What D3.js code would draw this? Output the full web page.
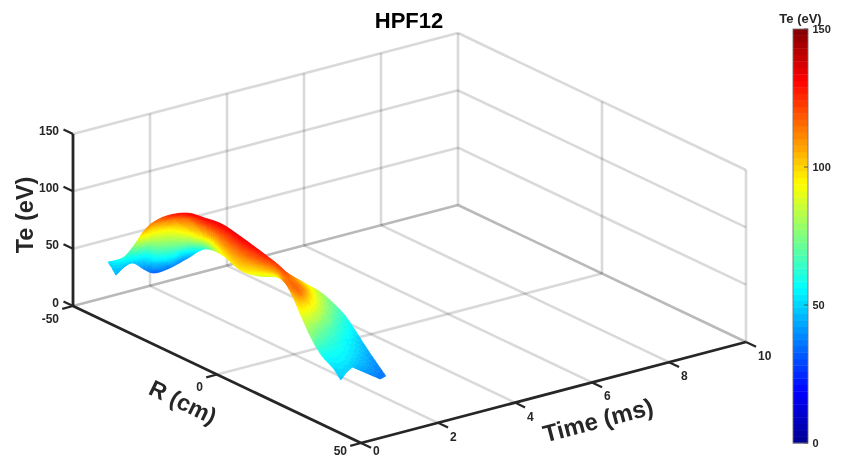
<!DOCTYPE html>
<html>
<head>
<meta charset="utf-8">
<script src="https://cdn.jsdelivr.net/npm/d3@7"></script>
<style>
html,body{margin:0;padding:0;background:#fff;overflow:hidden}
svg{display:block;font-family:"Liberation Sans",Arial,sans-serif;filter:blur(0.4px)}
</style>
</head>
<body>
<script>
const chartTitle = "HPF12";
const rTicks = [-50, 0, 50];
const timeTicks = [0, 2, 4, 6, 8, 10];
const teTicks = [0, 50, 100, 150];
const colorbarTicks = [0, 50, 100, 150];
const jetStops = ["#00008f", "#0000ff", "#00ffff", "#ffff00", "#ff0000", "#800000"];
const jetPositions = [0, 0.125, 0.375, 0.625, 0.875, 1];

// surface samples: one inner list per station along R, low edge to high edge
const surfaceR = [
 [-34.4,-35.3,-36.1,-36.9,-37.7,-38.3],
 [-37.2,-36.0,-35.9,-35.3,-34.4,-33.0],
 [-36.9,-35.1,-34.4,-33.0,-32.3,-30.4],
 [-37.5,-34.4,-29.4,-23.8,-22.0,-19.7],
 [-37.6,-32.3,-28.1,-24.0,-21.4,-18.3],
 [-36.5,-30.9,-26.7,-23.1,-18.0,-12.9],
 [-35.7,-31.5,-25.0,-19.4,-14.2,-8.3],
 [-27.1,-23.1,-18.5,-13.3,-7.7,-3.9],
 [-6.0,-5.1,-3.1,-1.5,0.0,2.1],
 [5.5,5.9,6.3,7.3,8.3,10.0],
 [6.2,9.3,11.2,13.8,15.3,16.2],
 [10.0,14.0,16.3,18.1,19.9,21.7],
 [25.8,25.5,25.2,25.1,25.0,25.2],
 [28.0,31.3,33.4,30.3,25.4,19.8],
 [31.4,31.2,30.6,28.1,23.0,18.4],
 [34.4,32.3,30.2,27.6,23.9,20.6],
 [35.5,34.5,33.0,30.4,27.3,24.1],
 [39.3,39.3,38.3,36.2,33.6,30.9],
 [43.8,42.2,39.6,39.6,41.7,40.4]
];
const surfaceTime = [
 [-0.05,-0.02,0.00,0.03,0.04,0.04],
 [0.37,0.28,0.27,0.21,0.13,0.02],
 [0.58,0.44,0.39,0.29,0.23,0.09],
 [0.94,0.71,0.33,-0.09,-0.23,-0.40],
 [1.20,0.80,0.49,0.18,-0.01,-0.24],
 [1.51,1.09,0.78,0.50,0.13,-0.26],
 [1.92,1.60,1.12,0.70,0.31,-0.13],
 [1.71,1.41,1.07,0.68,0.26,-0.02],
 [0.58,0.51,0.36,0.25,0.13,-0.03],
 [0.19,0.16,0.12,0.05,-0.03,-0.15],
 [0.60,0.37,0.22,0.03,-0.08,-0.15],
 [0.79,0.49,0.31,0.18,0.04,-0.09],
 [-0.16,-0.12,-0.07,-0.05,-0.03,-0.02],
 [-0.12,-0.29,-0.37,-0.06,0.39,0.88],
 [-0.14,-0.05,0.10,0.39,0.90,1.38],
 [-0.10,0.20,0.52,0.87,1.31,1.71],
 [0.07,0.30,0.57,0.92,1.33,1.73],
 [0.07,0.25,0.51,0.85,1.23,1.61],
 [-0.06,0.19,0.55,0.85,1.12,1.36]
];
const surfaceTe = [
 [46,47,48,49,50,52],
 [46,50,52,55,58,62],
 [48,54,58,64,68,74],
 [38,56,75,94,100,106],
 [33,56,75,94,104,114],
 [36,56,75,94,112,126],
 [42,56,75,94,116,132],
 [62,72,84,98,118,132],
 [92,98,106,115,124,134],
 [96,102,108,115,124,134],
 [88,98,106,116,124,130],
 [90,100,106,112,118,124],
 [112,113,114,115,116,118],
 [102,110,116,112,104,94],
 [88,94,98,96,88,80],
 [72,73,73,72,68,64],
 [58,60,61,60,58,55],
 [52,53,53,51,48,44],
 [48,50,49,42,36,35]
];

const W = 846, H = 458;
const ink = "#262626";
const originX = 73, originY = 306;
const rX = d3.scaleLinear().domain([-50, 50]).range([0, 288]);
const rY = d3.scaleLinear().domain([-50, 50]).range([0, 137]);
const tX = d3.scaleLinear().domain([0, 10]).range([0, 385]);
const tY = d3.scaleLinear().domain([0, 10]).range([0, -101]);
const zY = d3.scaleLinear().domain([0, 150]).range([0, -172]);
const project = (r, t, z) => [originX + rX(r) + tX(t), originY + rY(r) + tY(t) + zY(z)];

const jetScale = d3.scaleLinear().domain(jetPositions).range(jetStops).interpolate(d3.interpolateRgb);
const jet64 = d3.range(64).map(i => jetScale((i + 0.5) / 64));
const colorOf = d3.scaleQuantize().domain([0, 150]).range(jet64);

const svg = d3.select("body").append("svg").attr("width", W).attr("height", H);
const line = d3.line();

// grid
const gridG = svg.append("g").attr("fill", "none").attr("stroke", "#000").attr("stroke-opacity", 0.15).attr("stroke-width", 2.6);
const seg = (a, b) => gridG.append("path").attr("d", line([project(...a), project(...b)]));
teTicks.forEach(z => { seg([-50, 0, z], [-50, 10, z]); seg([-50, 10, z], [50, 10, z]); });
timeTicks.filter(t => t > 0).forEach(t => seg([-50, t, 0], [-50, t, 150]));
rTicks.filter(r => r > -50).forEach(r => seg([r, 10, 0], [r, 10, 150]));
timeTicks.filter(t => t > 0).forEach(t => seg([-50, t, 0], [50, t, 0]));
rTicks.filter(r => r < 50).forEach(r => seg([r, 0, 0], [r, 10, 0]));

// surface: smooth drawing between stored samples along the ribbon
const surfG = svg.append("g");
const stepsI = 8, stepsJ = 8;
const nI = surfaceTe.length, nJ = surfaceTe[0].length;
const along = (m, i, j, f) => {
  const g = k => m[Math.max(0, Math.min(nI - 1, k))][j];
  const p0 = g(i - 1), p1 = g(i), p2 = g(i + 1), p3 = g(i + 2);
  return 0.5 * (2 * p1 + (p2 - p0) * f + (2 * p0 - 5 * p1 + 4 * p2 - p3) * f * f + (3 * p1 - p0 - 3 * p2 + p3) * f * f * f);
};
const sample = (m, i, j, fi, fj) => {
  const a = along(m, i, j, fi), b = along(m, i, j + 1, fi);
  return a + (b - a) * fj;
};
const cells = [];
d3.range(nI - 1).forEach(i => {
  d3.range(nJ - 1).forEach(j => {
    d3.range(stepsI).forEach(a => d3.range(stepsJ).forEach(b => {
      const corner = (ca, cb) => {
        const fi = ca / stepsI, fj = cb / stepsJ;
        return project(sample(surfaceR, i, j, fi, fj), sample(surfaceTime, i, j, fi, fj), sample(surfaceTe, i, j, fi, fj));
      };
      const te = sample(surfaceTe, i, j, (a + 0.5) / stepsI, (b + 0.5) / stepsJ);
      cells.push({ pts: [corner(a, b), corner(a + 1, b), corner(a + 1, b + 1), corner(a, b + 1)], te });
    }));
  });
});
surfG.selectAll("path").data(cells).join("path")
  .attr("d", d => line(d.pts) + "Z")
  .attr("fill", d => colorOf(d.te))
  .attr("stroke", d => colorOf(d.te))
  .attr("stroke-width", 0.6)
  .attr("stroke-linejoin", "round");

// axes
const axisG = svg.append("g").attr("fill", "none").attr("stroke", ink).attr("stroke-width", 2.8);
const ax = (a, b) => axisG.append("path").attr("d", line([project(...a), project(...b)]));
ax([-50, 0, 0], [50, 0, 0]);
ax([50, 0, 0], [50, 10, 0]);
ax([-50, 0, 0], [-50, 0, 150]);
const tick = (a, b) => axisG.append("path").attr("stroke-width", 2.2).attr("d", line([project(...a), project(...b)]));
rTicks.forEach(r => tick([r, 0, 0], [r, -0.28, 0]));
timeTicks.forEach(t => tick([50, t, 0], [53.5, t, 0]));
teTicks.forEach(z => tick([-50, 0, z], [-53.3, 0, z]));

// tick labels
const tickText = (x, y, s, anchor, size) => svg.append("text")
  .attr("x", x).attr("y", y).attr("text-anchor", anchor)
  .attr("dominant-baseline", "central")
  .attr("font-size", size).attr("font-weight", "bold").attr("fill", ink).text(s);
const floorY = y => Math.min(y, H - 7.5);
teTicks.forEach(z => { const p = project(-50, 0, z); tickText(p[0] - 14, p[1] - 3.5, z, "end", 12); });
rTicks.forEach(r => { const p = project(r, 0, 0); tickText(p[0] - 14, floorY(p[1] + 12.5), r, "end", 12); });
timeTicks.forEach(t => { const p = project(50, t, 0); tickText(p[0] + 12, floorY(p[1] + 14), t, "start", 12); });

// axis labels and title
const bigText = (x, y, angle, s, size, fill) => svg.append("text")
  .attr("transform", `translate(${x},${y}) rotate(${angle})`)
  .attr("text-anchor", "middle").attr("dominant-baseline", "central")
  .attr("font-size", size).attr("font-weight", "bold").attr("fill", fill).text(s);
bigText(25, 215, -90, "Te (eV)", 23.5, ink);
bigText(183, 402, 26, "R (cm)", 23, ink);
bigText(598, 420, -14.7, "Time (ms)", 24, ink);
bigText(409, 20, 0, chartTitle, 22, "#000");

// colorbar
const cbY = d3.scaleLinear().domain([0, 150]).range([443, 29]);
const cbX0 = 793, cbX1 = 808;
const cbG = svg.append("g");
cbG.selectAll("rect").data(jet64).join("rect")
  .attr("x", cbX0).attr("width", cbX1 - cbX0)
  .attr("y", (d, i) => cbY((i + 1) * 150 / 64))
  .attr("height", (d, i) => cbY(i * 150 / 64) - cbY((i + 1) * 150 / 64) + 0.4)
  .attr("fill", d => d);
svg.append("rect").attr("x", cbX0).attr("y", cbY(150)).attr("width", cbX1 - cbX0).attr("height", cbY(0) - cbY(150))
  .attr("fill", "none").attr("stroke", "#777").attr("stroke-width", 0.9);
colorbarTicks.forEach(v => {
  svg.append("path").attr("d", line([[cbX1 - 4, cbY(v)], [cbX1, cbY(v)]])).attr("stroke", "#444").attr("stroke-width", 0.8);
  tickText(cbX1 + 4.5, cbY(v), v, "start", 11);
});
bigText(800.5, 18, 0, "Te (eV)", 13, ink);
</script>
</body>
</html>
